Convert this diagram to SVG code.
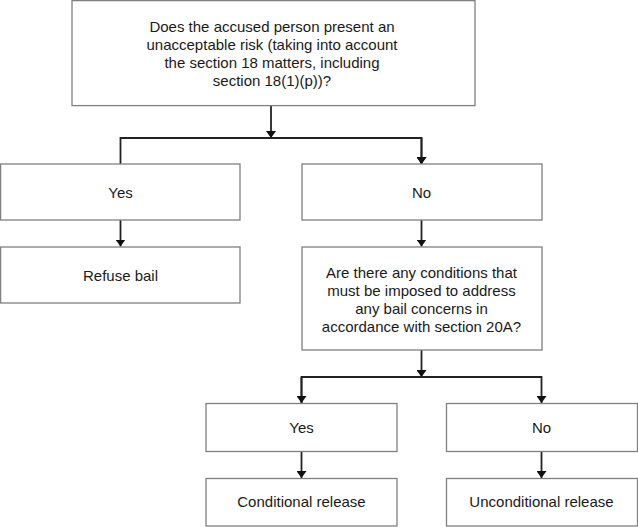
<svg xmlns="http://www.w3.org/2000/svg" width="638" height="527" viewBox="0 0 638 527">
<defs>
<style>
.box{fill:#ffffff;stroke:#808080;stroke-width:1.3}
.t{font-family:"Liberation Sans",Arial,Helvetica,sans-serif;font-size:15px;fill:#1a1a1a;text-anchor:middle}
.c{fill:none;stroke:#222222;stroke-width:1.8}
</style>
<marker id="ah" viewBox="0 0 7 10" refX="7" refY="5" markerUnits="userSpaceOnUse" markerWidth="7" markerHeight="10" orient="auto">
<path d="M0,0 L7,5 L0,10 Z" fill="#111111"/>
</marker>
</defs>
<rect width="638" height="527" fill="#ffffff"/>
<g id="connectors">
<path class="c" d="M271,106 V138" marker-end="url(#ah)"/>
<path class="c" d="M120.5,164 V138 H421.5 V164" marker-end="url(#ah)"/>
<path class="c" d="M421.5,138 V164" marker-end="url(#ah)"/>
<path class="c" d="M120.5,220 V246.5" marker-end="url(#ah)"/>
<path class="c" d="M421.5,220 V246.5" marker-end="url(#ah)"/>
<path class="c" d="M421.5,350 V377" marker-end="url(#ah)"/>
<path class="c" d="M301.5,403 V377 H541.5 V403" marker-end="url(#ah)"/>
<path class="c" d="M301.5,377 V403" marker-end="url(#ah)"/>
<path class="c" d="M301.5,451.5 V478" marker-end="url(#ah)"/>
<path class="c" d="M541.5,451.5 V478" marker-end="url(#ah)"/>
</g>
<g id="q1">
<rect class="box" x="72" y="0.6" width="403" height="105"/>
<text class="t" x="272" y="32">Does the accused person present an</text>
<text class="t" x="272" y="50">unacceptable risk (taking into account</text>
<text class="t" x="272" y="68">the section 18 matters, including</text>
<text class="t" x="272" y="86">section 18(1)(p))?</text>
</g>
<g id="yes1">
<rect class="box" x="0.6" y="164" width="239.4" height="56"/>
<text class="t" x="120.5" y="197.5">Yes</text>
</g>
<g id="no1">
<rect class="box" x="302" y="164" width="240" height="56"/>
<text class="t" x="421.5" y="197.5">No</text>
</g>
<g id="refuse">
<rect class="box" x="0.6" y="247" width="239.4" height="56"/>
<text class="t" x="120.5" y="281">Refuse bail</text>
</g>
<g id="q2">
<rect class="box" x="302" y="247" width="240" height="103"/>
<text class="t" x="421.5" y="278">Are there any conditions that</text>
<text class="t" x="421.5" y="296">must be imposed to address</text>
<text class="t" x="421.5" y="314">any bail concerns in</text>
<text class="t" x="421.5" y="332">accordance with section 20A?</text>
</g>
<g id="yes2">
<rect class="box" x="206" y="403.5" width="191" height="48"/>
<text class="t" x="301.5" y="433">Yes</text>
</g>
<g id="no2">
<rect class="box" x="446.5" y="403.5" width="191" height="48"/>
<text class="t" x="541.5" y="432.5">No</text>
</g>
<g id="conditional">
<rect class="box" x="206" y="478.5" width="191" height="47.5"/>
<text class="t" x="301.5" y="507">Conditional release</text>
</g>
<g id="unconditional">
<rect class="box" x="446.5" y="478.5" width="191" height="47.5"/>
<text class="t" x="541.5" y="507">Unconditional release</text>
</g>
</svg>
